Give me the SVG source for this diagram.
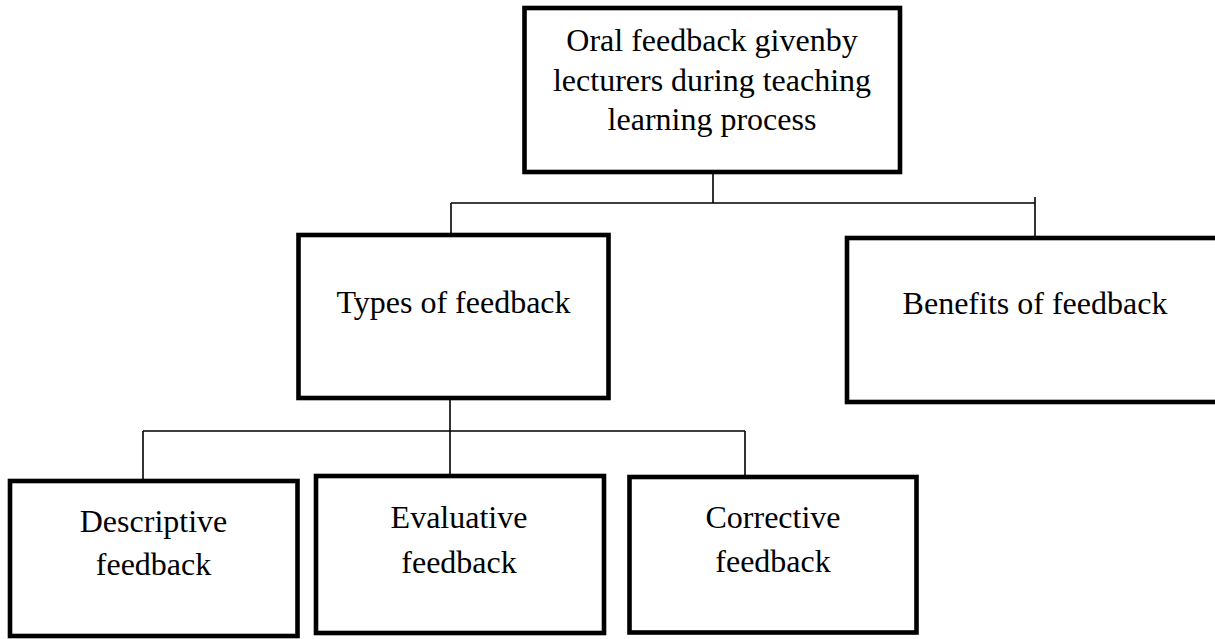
<svg xmlns="http://www.w3.org/2000/svg" width="1215" height="639" viewBox="0 0 1215 639">
<style>
.box{fill:#fff;stroke:#000;stroke-width:4.6}
.lbl{font-family:"Liberation Serif","Times New Roman",serif;font-size:32px;fill:#000;text-anchor:middle}
.con{stroke:#000;stroke-width:1.6;fill:none}
</style>
<rect width="1215" height="639" fill="#fff"/>
<g id="connectors">
<path class="con" d="M713 172V203M451 203H1035M1035 197V238M451 203V235"/>
<path class="con" d="M450 398V476M143 431H745M143 431V481M745 431V477"/>
</g>
<g id="node-root">
<rect class="box" x="524.5" y="8" width="375.5" height="164"/>
<text class="lbl" x="712" y="51">Oral feedback givenby</text>
<text class="lbl" x="712" y="91">lecturers during teaching</text>
<text class="lbl" x="712" y="130">learning process</text>
</g>
<g id="node-types">
<rect class="box" x="298.5" y="235" width="310" height="163"/>
<text class="lbl" x="453.5" y="313">Types of feedback</text>
</g>
<g id="node-benefits">
<rect class="box" x="847" y="238" width="380" height="164"/>
<text class="lbl" x="1035" y="314">Benefits of feedback</text>
</g>
<g id="node-descriptive">
<rect class="box" x="10" y="481" width="287.5" height="155"/>
<text class="lbl" x="153.5" y="532">Descriptive</text>
<text class="lbl" x="153.5" y="575">feedback</text>
</g>
<g id="node-evaluative">
<rect class="box" x="316" y="476" width="288" height="157"/>
<text class="lbl" x="459" y="528">Evaluative</text>
<text class="lbl" x="459" y="573">feedback</text>
</g>
<g id="node-corrective">
<rect class="box" x="629.5" y="477" width="287" height="155.5"/>
<text class="lbl" x="773" y="528">Corrective</text>
<text class="lbl" x="773" y="572">feedback</text>
</g>
</svg>
